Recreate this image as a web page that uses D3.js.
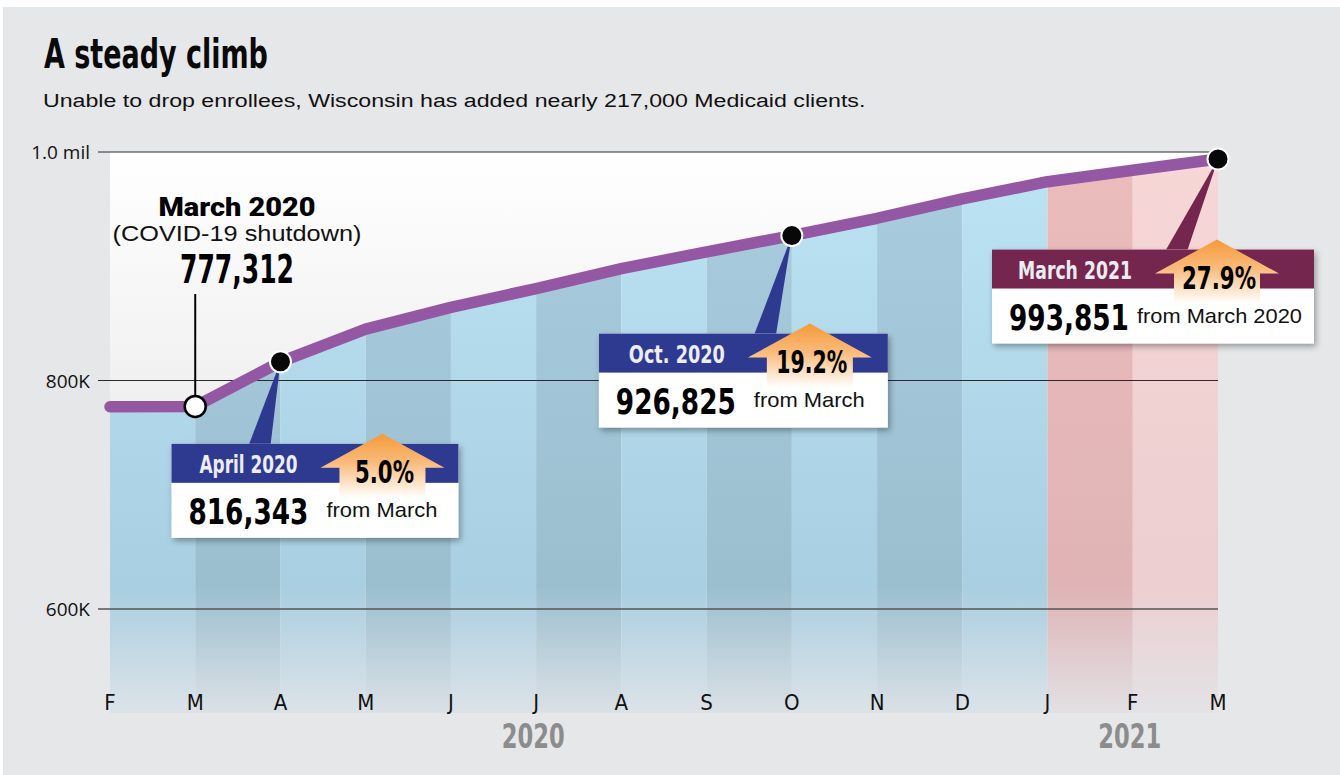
<!DOCTYPE html>
<html>
<head>
<meta charset="utf-8">
<script src="https://cdn.jsdelivr.net/npm/d3@7"></script>
<style>
  html, body { margin: 0; padding: 0; background: #fff; }
  svg { display: block; }
</style>
</head>
<body>
<div id="chart"></div>
<script>
// ---- data ----
var months = ["F", "M", "A", "M", "J", "J", "A", "S", "O", "N", "D", "J", "F", "M"];
var enrollment = [777000, 777312, 816343, 845000, 864000, 880500, 898000, 912500, 926825, 942000, 959000, 974000, 984000, 993851];
var yTicks = [600000, 800000, 1000000];
var yTickLabels = ["600K", "800K", "1.0 mil"];
var years = ["2020", "2021"];
var yearMonthIdx = [5, 12];

var shutdown = { i: 1, head: "March 2020", sub: "(COVID-19 shutdown)", num: "777,312" };
var callouts = [
  { i: 2, head: "April 2020", num: "816,343", pct: "5.0%", note: "from March", color: "#2e3a8f" },
  { i: 8, head: "Oct. 2020", num: "926,825", pct: "19.2%", note: "from March", color: "#2e3a8f" },
  { i: 13, head: "March 2021", num: "993,851", pct: "27.9%", note: "from March 2020", color: "#75264f" }
];

// ---- layout ----
var W = 1340, H = 775;
var condensed = "'Liberation Sans Narrow','DejaVu Sans Condensed',sans-serif";
var helv = "'Liberation Sans',Arial,sans-serif";
var axisFont = "'Open Sans','Noto Sans',sans-serif";

var svg = d3.select("#chart").append("svg").attr("width", W).attr("height", H);
var defs = svg.append("defs");

var x = d3.scaleLinear().domain([0, months.length - 1]).range([110, 1218]);
var y = d3.scaleLinear().domain([600000, 1000000]).range([609, 152]);
var plotTop = y(1000000), plotBottom = 713;

function grad(id, stops, y1, y2) {
  var g = defs.append("linearGradient").attr("id", id)
    .attr("gradientUnits", "userSpaceOnUse")
    .attr("x1", 0).attr("x2", 0).attr("y1", y1).attr("y2", y2);
  stops.forEach(function (s) {
    g.append("stop").attr("offset", s[0]).attr("stop-color", s[1]).attr("stop-opacity", s[2] == null ? 1 : s[2]);
  });
}
grad("skyGrad", [[0, "#ffffff"], [1, "#eeeeef"]], plotTop, 430);
grad("blueLight", [[0, "#bce4f4"], [1, "#a8cee1"]], plotTop, 600);
grad("blueDark", [[0, "#a9cddf"], [1, "#9bbecf"]], plotTop, 600);
grad("pinkDark", [[0, "#ecbcbc"], [1, "#dfb3b5"]], plotTop, 600);
grad("pinkLight", [[0, "#f7d6d6"], [1, "#ecced0"]], plotTop, 600);
grad("fade", [[0, "#e2e5e8", 0], [1, "#e2e5e8", 0.9]], 585, plotBottom);

var arrowGrad = defs.append("linearGradient").attr("id", "arrowGrad")
  .attr("x1", 0).attr("x2", 0).attr("y1", 0).attr("y2", 1);
[[0, "#f69a38"], [0.45, "#f9bb7c"], [0.75, "#fde0c2"], [1, "#ffffff"]].forEach(function (s) {
  arrowGrad.append("stop").attr("offset", s[0]).attr("stop-color", s[1]);
});

var shadow = defs.append("filter").attr("id", "shadow")
  .attr("x", "-10%").attr("y", "-20%").attr("width", "130%").attr("height", "150%");
shadow.append("feDropShadow").attr("dx", 2).attr("dy", 3).attr("stdDeviation", 3)
  .attr("flood-color", "#000").attr("flood-opacity", 0.35);

// text helper: when a width is given, squeeze/stretch horizontally with a scale
function txt(g, s, px, py, o) {
  var t = g.append("text").text(s)
    .attr("font-family", o.family || helv)
    .attr("font-size", o.size || 16)
    .attr("font-weight", o.weight || "normal")
    .attr("fill", o.fill || "#000")
    .attr("text-anchor", o.anchor || "start");
  if (o.len) {
    var natural = t.node().getComputedTextLength();
    var sx = natural ? o.len / natural : 1;
    t.attr("transform", "translate(" + px + "," + py + ") scale(" + sx.toFixed(4) + ",1)");
  } else {
    t.attr("x", px).attr("y", py);
  }
  return t;
}

// background panel
svg.append("rect").attr("x", 3).attr("y", 7).attr("width", W - 3).attr("height", H - 7).attr("fill", "#e6e7e9");

// title + subtitle
txt(svg, "A steady climb", 44, 68, { family: condensed, size: 40, weight: "bold", len: 224, fill: "#0a0a0a" });
txt(svg, "Unable to drop enrollees, Wisconsin has added nearly 217,000 Medicaid clients.", 43, 107,
  { size: 19, len: 823, fill: "#111" });

// plot sky
svg.append("rect").attr("x", x(0)).attr("y", plotTop).attr("width", x(13) - x(0)).attr("height", plotBottom - plotTop)
  .attr("fill", "url(#skyGrad)");

// area under line as clip
var area = d3.area().x(function (d, i) { return x(i); }).y0(plotBottom).y1(function (d) { return y(d); });
defs.append("clipPath").attr("id", "underLine").append("path").attr("d", area(enrollment));

var bands = svg.append("g").attr("clip-path", "url(#underLine)");
bands.selectAll("rect.band").data(d3.range(months.length - 1)).enter().append("rect")
  .attr("class", "band")
  .attr("x", function (i) { return x(i); })
  .attr("width", function (i) { return x(i + 1) - x(i); })
  .attr("y", plotTop).attr("height", plotBottom - plotTop)
  .attr("fill", function (i) {
    if (i === 11) return "url(#pinkDark)";
    if (i === 12) return "url(#pinkLight)";
    return i % 2 ? "url(#blueDark)" : "url(#blueLight)";
  });
bands.append("rect").attr("x", x(0)).attr("width", x(13) - x(0))
  .attr("y", 585).attr("height", plotBottom - 585).attr("fill", "url(#fade)");

// gridlines + y labels
yTicks.forEach(function (t, k) {
  svg.append("line").attr("x1", 98).attr("x2", x(13)).attr("y1", y(t)).attr("y2", y(t))
    .attr("stroke", k === 0 ? "#555" : "#2a2a2a").attr("stroke-width", k === 0 ? 1.5 : 1);
  txt(svg, yTickLabels[k], 90, y(t) + 7, { family: axisFont, size: 19, anchor: "end", fill: "#111" });
});

// month labels
months.forEach(function (m, i) {
  txt(svg, m, x(i), 710, { family: condensed, size: 22, anchor: "middle", fill: "#111" });
});
years.forEach(function (yr, k) {
  txt(svg, yr, x(yearMonthIdx[k]) - 3, 748, { family: condensed, size: 34, weight: "bold", anchor: "middle", fill: "#8c8c8c", len: 63 });
});

// shutdown annotation
var sx = x(shutdown.i), sy = y(enrollment[shutdown.i]);
svg.append("line").attr("x1", sx).attr("x2", sx).attr("y1", 294).attr("y2", sy)
  .attr("stroke", "#000").attr("stroke-width", 2);
txt(svg, shutdown.head, 237, 216, { size: 26, weight: "900", family: "'Roboto','Liberation Sans',sans-serif", anchor: "middle", len: 157 });
txt(svg, shutdown.sub, 237, 241, { size: 22, anchor: "middle", len: 249, fill: "#111" });
txt(svg, shutdown.num, 237, 283, { family: condensed, size: 39, weight: "bold", anchor: "middle", len: 114 });

// callout layout: box offset from point, width, arrow centre, pointer base, note x
var boxLayout = [
  { dx: -109, dy: 82, w: 287, ax: 211, pb: 77, nx: 155, hx: 77, hl: 98, pl: 59 },
  { dx: -193, dy: 98, w: 289, ax: 211, pb: 155, nx: 155, hx: 78, hl: 96, pl: 71 },
  { dx: -226, dy: 90.5, w: 322, ax: 225, pb: 173, nx: 145, hx: 83, hl: 114, pl: 74 }
];
var headH = 39, bodyH = 55;

// pointer triangles (under the line and markers)
callouts.forEach(function (c, k) {
  var L = boxLayout[k], px = x(c.i), py = y(enrollment[c.i]);
  var x0 = px + L.dx, y0 = py + L.dy;
  svg.append("path")
    .attr("d", "M" + (x0 + L.pb) + "," + (y0 + 2) + "L" + px + "," + py + "L" + (x0 + L.pb + 22) + "," + (y0 + 2) + "Z")
    .attr("fill", c.color);
});

// line
var line = d3.line().x(function (d, i) { return x(i); }).y(function (d) { return y(d); });
svg.append("path").attr("d", line(enrollment)).attr("fill", "none")
  .attr("stroke", "#9357a3").attr("stroke-width", 11.5)
  .attr("stroke-linecap", "round").attr("stroke-linejoin", "round");

// callout boxes
callouts.forEach(function (c, k) {
  var L = boxLayout[k], px = x(c.i), py = y(enrollment[c.i]);
  var x0 = px + L.dx, y0 = py + L.dy;
  var g = svg.append("g");
  g.append("rect").attr("x", x0).attr("y", y0).attr("width", L.w).attr("height", headH + bodyH)
    .attr("fill", "#fff").attr("filter", "url(#shadow)");
  g.append("rect").attr("x", x0).attr("y", y0).attr("width", L.w).attr("height", headH).attr("fill", c.color);
  txt(g, c.head, x0 + L.hx, y0 + 29, { family: condensed, size: 25, weight: "bold", anchor: "middle", fill: "#ececf2", len: L.hl });

  var ax = x0 + L.ax, tip = y0 - 10, base = y0 + 24, bot = y0 + 54;
  g.append("path")
    .attr("d", "M" + ax + "," + tip + "L" + (ax + 62) + "," + base + "L" + (ax + 43) + "," + base +
      "L" + (ax + 43) + "," + bot + "L" + (ax - 43) + "," + bot + "L" + (ax - 43) + "," + base +
      "L" + (ax - 62) + "," + base + "Z")
    .attr("fill", "url(#arrowGrad)");
  txt(g, c.pct, ax + 2, y0 + 39, { family: condensed, size: 32, weight: "bold", anchor: "middle", len: L.pl });
  txt(g, c.num, x0 + 17, y0 + 80, { family: condensed, size: 36, weight: "bold", len: 120 });
  txt(g, c.note, x0 + L.nx, y0 + 73, { size: 20, len: c.note.length > 11 ? 165 : 111, fill: "#111" });
});

// markers
svg.selectAll("circle.mk").data(callouts).enter().append("circle")
  .attr("class", "mk")
  .attr("cx", function (c) { return x(c.i); })
  .attr("cy", function (c) { return y(enrollment[c.i]); })
  .attr("r", 10.5).attr("fill", "#080808").attr("stroke", "#fff").attr("stroke-width", 2);
svg.append("circle").attr("cx", sx).attr("cy", sy).attr("r", 10.5)
  .attr("fill", "#fff").attr("stroke", "#000").attr("stroke-width", 2.5);
</script>
</body>
</html>
